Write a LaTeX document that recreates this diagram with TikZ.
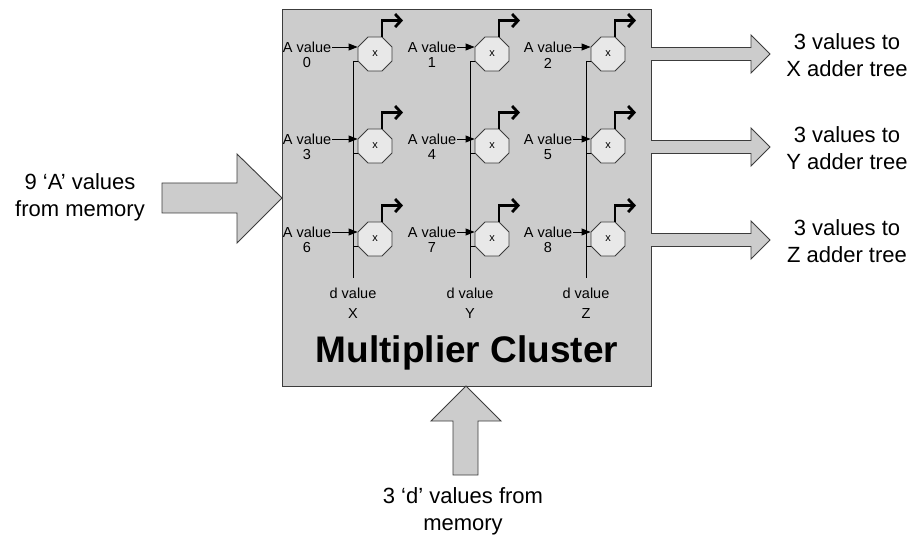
\documentclass[tikz,border=0pt]{standalone}
\usepackage{fontspec}
\setmainfont{Liberation Sans}
\usetikzlibrary{arrows.meta,shapes.geometric}
\definecolor{panel}{HTML}{CCCCCC}
\definecolor{unitfill}{HTML}{E8E8E8}
\definecolor{edge}{HTML}{3C3C3C}
\begin{document}
\begin{tikzpicture}[x=1pt,y=-1pt,
  lbl/.style={inner sep=1pt,font=\fontsize{14.5}{20}\selectfont,align=center},
  biglbl/.style={inner sep=0pt,font=\fontsize{22}{27}\selectfont,align=center},
  mult/.style={regular polygon,regular polygon sides=8,minimum size=36.8pt,
    inner sep=0pt,draw=edge,fill=unitfill,line width=0.9pt,
    font=\fontsize{11}{12}\selectfont},
  wire/.style={draw=black,line width=0.9pt},
  inarrow/.style={wire,-{Triangle[length=9pt,width=7pt]}},
  outarrow/.style={draw=black,line width=2.8pt,line join=miter,
    -{Straight Barb[length=6pt,width=13pt,line width=2.8pt]}},
  blockarrow/.style={draw=edge,fill=panel,line width=0.9pt,line join=miter}]
\useasboundingbox (0,0) rectangle (913,537);

% cluster box
\node[draw=edge,fill=panel,line width=1pt,minimum width=369pt,
      minimum height=376pt,inner sep=0pt] (cluster) at (466.5,198) {};

% d-value buses
\foreach \c/\cx/\name in {0/375/X,1/492/Y,2/608/Z}{
  \coordinate (vt\c) at (\cx-22,61);
  \coordinate (vb\c) at (\cx-22,278);
  \draw[wire] (vt\c) -- (vb\c);
  \node[lbl] (d\c) at (\cx-22,303) {d value\\\name};
}

% multipliers
\foreach \c/\cx/\lx in {0/375/307,1/492/432,2/608/548}{
  \foreach \r/\cy in {0/54,1/146,2/239}{
    \pgfmathtruncatemacro\k{3*\r+\c}
    \node[mult] (m\k) at (\cx,\cy) {x};
    \node[lbl] (a\k) at (\lx,\cy-7) {A value};
    \node[lbl] (n\k) at (\lx,\cy+9) {\k};
    \draw[inarrow] (a\k.east) -- (a\k.east -| m\k.west);
    \draw[wire] ([yshift=-7pt]m\k.west) -- ([yshift=-7pt]m\k.west -| vt\c);
    \draw[outarrow] ([xshift=7pt]m\k.north) -- ++(0,-16) -- ++(21,0);
  }
}

\node[inner sep=0pt,font=\bfseries\fontsize{37}{40}\selectfont] (title)
  at (467,353) {Multiplier Cluster};

% outputs to the adder trees
\foreach \cy/\name in {54/X,147/Y,240/Z}{
  \draw[blockarrow] (651,\cy-6.5) -- (751,\cy-6.5) -- (751,\cy-19)
    -- (770,\cy) -- (751,\cy+19) -- (751,\cy+6.5) -- (651,\cy+6.5);
  \node[biglbl] (out\name) at (847,\cy+1) {3 values to\\\name{} adder tree};
}

% 'A' values input
\draw[blockarrow] (162,183) -- (237,183) -- (237,154) -- (282,198)
  -- (237,243) -- (237,213) -- (162,213) -- cycle;
\node[biglbl] (ain) at (80,197) {9 ‘A’ values\\from memory};

% 'd' values input
\draw[blockarrow] (466,386) -- (501,421) -- (478,421) -- (478,475)
  -- (453,475) -- (453,421) -- (431,421) -- cycle;
\node[biglbl] (din) at (463,511) {3 ‘d’ values from\\memory};
\end{tikzpicture}
\end{document}
